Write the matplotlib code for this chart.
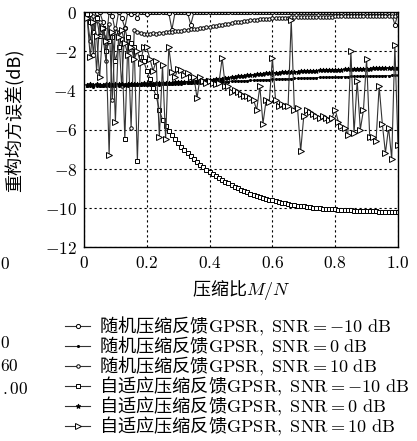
import numpy as np
import matplotlib
matplotlib.use("Agg")
import matplotlib.pyplot as plt

plt.rcParams['font.family'] = ['Noto Sans CJK SC', 'DejaVu Sans']
plt.rcParams['mathtext.fontset'] = 'cm'
plt.rcParams['axes.unicode_minus'] = True

# compression ratio M/N (one point per 0.01)
m_over_n = np.round(np.arange(1, 101) * 0.01, 2)

# random compression feedback GPSR, SNR=-10 dB
rand_m10 = [0.00, -0.10, -2.20, -0.05, 0.00, -0.50, -1.60, 0.00, -0.20, -1.00,
            0.00, -0.30, -0.80, 0.00, -0.10, 0.00, -0.30, 0.00, 0.00, -0.10,
            0.00, -0.02, 0.00, -0.01, 0.00, -0.02, -0.05, -0.90, -0.02, 0.00,
            -0.01, 0.00, -0.05, -0.65, -0.02, 0.00, -0.01, 0.00, -0.02, 0.00,
            -0.01, 0.00, -0.02, 0.00, -0.01, 0.00, 0.00, -0.02, 0.00, -0.01,
            0.00, -0.01, 0.00, -0.02, 0.00, -0.01, 0.00, 0.00, -0.02, 0.00,
            -0.01, 0.00, -0.02, 0.00, -0.01, 0.00, 0.00, -0.02, 0.00, -0.01,
            0.00, -0.01, 0.00, -0.02, 0.00, -0.01, 0.00, 0.00, -0.02, 0.00,
            -0.01, 0.00, -0.02, 0.00, -0.01, 0.00, 0.00, -0.02, 0.00, -0.01,
            0.00, -0.01, 0.00, -0.02, 0.00, -0.01, -0.02, -0.10, -0.65, -0.10]

# random compression feedback GPSR, SNR=0 dB
rand_0 = [-3.80, -3.78, -3.81, -3.77, -3.79, -3.78, -3.76, -3.79, -3.77, -3.78,
          -3.76, -3.77, -3.75, -3.76, -3.74, -3.75, -3.73, -3.74, -3.72, -3.73,
          -3.71, -3.72, -3.70, -3.71, -3.69, -3.70, -3.68, -3.69, -3.67, -3.66,
          -3.66, -3.65, -3.64, -3.64, -3.63, -3.62, -3.61, -3.61, -3.60, -3.59,
          -3.58, -3.58, -3.57, -3.56, -3.55, -3.55, -3.54, -3.53, -3.52, -3.52,
          -3.51, -3.50, -3.49, -3.49, -3.48, -3.47, -3.46, -3.46, -3.45, -3.44,
          -3.43, -3.43, -3.42, -3.41, -3.41, -3.40, -3.39, -3.39, -3.38, -3.37,
          -3.37, -3.36, -3.36, -3.35, -3.34, -3.34, -3.33, -3.33, -3.32, -3.32,
          -3.31, -3.31, -3.30, -3.30, -3.29, -3.29, -3.28, -3.28, -3.27, -3.27,
          -3.27, -3.26, -3.26, -3.26, -3.25, -3.25, -3.25, -3.24, -3.24, -3.24]

# random compression feedback GPSR, SNR=10 dB
rand_10 = [-0.30, -1.50, -0.20, -3.00, -0.50, -1.20, -2.50, -0.60, -4.50, -0.80,
           -1.00, -3.80, -0.80, -1.50, -5.90, -0.90, -1.00, -1.05, -1.10, -1.10,
           -1.10, -1.08, -1.10, -1.07, -1.06, -1.04, -1.03, -1.01, -0.99, -0.97,
           -0.95, -0.93, -0.91, -0.89, -0.87, -0.85, -0.83, -0.81, -0.79, -0.77,
           -0.74, -0.71, -0.68, -0.65, -0.62, -0.59, -0.56, -0.53, -0.51, -0.49,
           -0.47, -0.45, -0.43, -0.41, -0.39, -0.38, -0.36, -0.35, -0.34, -0.33,
           -0.32, -0.31, -0.30, -0.30, -0.29, -0.28, -0.28, -0.27, -0.27, -0.26,
           -0.26, -0.25, -0.25, -0.24, -0.24, -0.24, -0.23, -0.23, -0.23, -0.22,
           -0.22, -0.22, -0.21, -0.21, -0.21, -0.21, -0.20, -0.20, -0.20, -0.20,
           -0.19, -0.19, -0.19, -0.19, -0.18, -0.18, -0.18, -0.18, -0.18, -0.17]

# adaptive compression feedback GPSR, SNR=-10 dB
adap_m10 = [-0.10, -0.50, -1.00, -0.30, -1.20, -0.80, -2.00, -1.50, -1.30, -2.50,
            -1.80, -1.40, -6.50, -1.30, -1.60, -1.80, -7.60, -2.30, -2.50, -3.00,
            -3.40, -3.90, -4.30, -5.00, -5.50, -5.80, -6.10, -6.30, -6.50, -6.70,
            -6.90, -7.05, -7.20, -7.35, -7.50, -7.65, -7.80, -7.92, -8.05, -8.17,
            -8.28, -8.38, -8.48, -8.57, -8.66, -8.75, -8.84, -8.92, -9.00, -9.08,
            -9.15, -9.21, -9.27, -9.33, -9.39, -9.44, -9.49, -9.54, -9.58, -9.62,
            -9.66, -9.70, -9.74, -9.77, -9.80, -9.83, -9.86, -9.89, -9.91, -9.93,
            -9.95, -9.97, -9.99, -10.01, -10.02, -10.04, -10.05, -10.06, -10.07, -10.08,
            -10.09, -10.10, -10.11, -10.12, -10.13, -10.14, -10.15, -10.15, -10.16, -10.17,
            -10.17, -10.18, -10.18, -10.19, -10.19, -10.20, -10.20, -10.21, -10.21, -10.22]

# adaptive compression feedback GPSR, SNR=0 dB
adap_0 = [-3.72, -3.70, -3.74, -3.69, -3.71, -3.73, -3.68, -3.70, -3.72, -3.69,
          -3.70, -3.68, -3.71, -3.69, -3.67, -3.70, -3.66, -3.68, -3.65, -3.67,
          -3.64, -3.66, -3.63, -3.62, -3.64, -3.61, -3.60, -3.62, -3.58, -3.59,
          -3.57, -3.56, -3.55, -3.56, -3.53, -3.52, -3.50, -3.51, -3.48, -3.46,
          -3.45, -3.43, -3.41, -3.40, -3.37, -3.35, -3.33, -3.31, -3.29, -3.27,
          -3.25, -3.24, -3.22, -3.20, -3.19, -3.17, -3.16, -3.14, -3.13, -3.11,
          -3.10, -3.09, -3.08, -3.07, -3.06, -3.05, -3.05, -3.04, -3.03, -3.02,
          -3.01, -3.01, -3.00, -2.99, -2.98, -2.98, -2.97, -2.96, -2.96, -2.95,
          -2.95, -2.94, -2.93, -2.93, -2.92, -2.92, -2.91, -2.90, -2.90, -2.89,
          -2.89, -2.88, -2.88, -2.87, -2.87, -2.86, -2.86, -2.85, -2.85, -2.84]

# adaptive compression feedback GPSR, SNR=10 dB
adap_10 = [-0.30, -2.30, -0.50, -1.20, -3.30, -0.80, -1.50, -7.30, -1.00, -5.60,
           -1.30, -0.90, -1.60, -2.20, -1.80, -2.40, -2.00, -2.60, -1.80, -1.80,
           -2.40, -3.00, -2.50, -6.40, -2.70, -6.50, -1.80, -3.05, -3.30, -2.90,
           -2.96, -3.20, -3.10, -3.30, -3.30, -4.40, -3.30, -3.50, -3.60, -3.50,
           -3.60, -3.70, -3.60, -2.35, -3.80, -3.80, -4.10, -4.00, -4.10, -4.20,
           -4.30, -4.30, -4.40, -4.50, -5.00, -3.80, -5.70, -4.50, -4.60, -2.35,
           -4.50, -4.80, -4.70, -4.80, -4.80, -0.40, -5.00, -4.90, -7.10, -5.30,
           -5.00, -5.10, -5.20, -5.30, -5.40, -5.30, -5.40, -5.50, -5.40, -5.00,
           -5.60, -5.80, -5.90, -6.30, -2.00, -6.20, -3.50, -6.00, -5.00, -2.40,
           -6.40, -6.40, -6.60, -3.80, -5.70, -7.20, -5.90, -7.50, -1.70, -6.80]

labels = [r'随机压缩反馈$\mathrm{GPSR,\ SNR}{=}{-10}\ \mathrm{dB}$',
          r'随机压缩反馈$\mathrm{GPSR,\ SNR}{=}0\ \mathrm{dB}$',
          r'随机压缩反馈$\mathrm{GPSR,\ SNR}{=}10\ \mathrm{dB}$',
          r'自适应压缩反馈$\mathrm{GPSR,\ SNR}{=}{-10}\ \mathrm{dB}$',
          r'自适应压缩反馈$\mathrm{GPSR,\ SNR}{=}0\ \mathrm{dB}$',
          r'自适应压缩反馈$\mathrm{GPSR,\ SNR}{=}10\ \mathrm{dB}$']

x_ticks = [0, 0.2, 0.4, 0.6, 0.8, 1.0]
x_tick_labels = ['$0$', '$0.2$', '$0.4$', '$0.6$', '$0.8$', '$1.0$']
y_ticks = [0, -2, -4, -6, -8, -10, -12]
y_tick_labels = ['$0$', '$-2$', '$-4$', '$-6$', '$-8$', '$-10$', '$-12$']

fig = plt.figure(figsize=(4.17, 4.41), dpi=100)
ax = fig.add_axes([84 / 417, 1 - 247 / 441, 314 / 417, 235 / 441])

series = [rand_m10, rand_0, rand_10, adap_m10, adap_0, adap_10]
markers = ['o', '.', 'o', 's', '*', '>']
sizes = [3.0, 3.0, 2.5, 3.2, 3.5, 4.0]
fills = ['white', 'k', 'white', 'white', 'k', 'white']

for y, lab, mk, ms, fc in zip(series, labels, markers, sizes, fills):
    ax.plot(m_over_n, y, color='0.2', lw=0.8, marker=mk, ms=ms,
            mfc=fc, mec='k', mew=0.7, label=lab)

ax.set_xlim(0, 1)
ax.set_ylim(-12, 0)
ax.set_xticks(x_ticks)
ax.set_xticklabels(x_tick_labels, fontsize=12.5)
ax.set_yticks(y_ticks)
ax.set_yticklabels(y_tick_labels, fontsize=12.5)
ax.tick_params(direction='in', length=0, pad=5)
ax.grid(True, color='k', linestyle=(0, (2, 2.5)), linewidth=0.8)
for sp in ax.spines.values():
    sp.set_linewidth(1.0)

ax.set_xlabel(r'压缩比$M/N$', fontsize=13, labelpad=4)
ax.set_ylabel('重构均方误差(dB)', fontsize=13)
ax.yaxis.set_label_coords(-0.19, 0.54)

fig.legend(loc='upper left', bbox_to_anchor=(65 / 417, 1 - 315 / 441),
           frameon=False, fontsize=13.1, handlelength=1.4, handletextpad=0.45,
           labelspacing=-0.17, borderpad=0, borderaxespad=0)

# leftovers of the neighbouring panel that is cut off at the left edge
fig.text(0, 1 - 264 / 441, '$0$', ha='left', va='center', fontsize=12.5)
fig.text(0, 1 - 343 / 441, '$0$', ha='left', va='center', fontsize=12.5)
fig.text(0, 1 - 366 / 441, '$60$', ha='left', va='center', fontsize=12.5)
fig.text(2 / 417, 1 - 389 / 441, '$.00$', ha='left', va='center', fontsize=12.5)

fig.savefig('out.png', dpi=100)
